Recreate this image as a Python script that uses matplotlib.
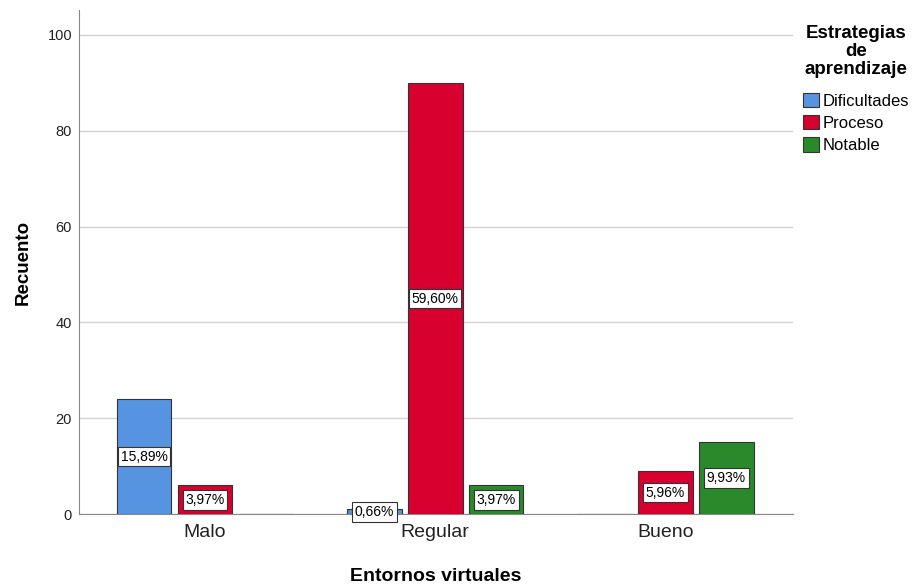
import matplotlib.pyplot as plt
import numpy as np

plt.rcParams['font.family'] = ['Liberation Sans', 'DejaVu Sans']

categories = ['Malo', 'Regular', 'Bueno']
series = ['Dificultades', 'Proceso', 'Notable']
counts = {
    'Dificultades': [24, 1, 0],
    'Proceso': [6, 90, 9],
    'Notable': [0, 6, 15],
}
percent_labels = {
    'Dificultades': ['15,89%', '0,66%', None],
    'Proceso': ['3,97%', '59,60%', '5,96%'],
    'Notable': [None, '3,97%', '9,93%'],
}
colors = {'Dificultades': '#5694E2', 'Proceso': '#D8002F', 'Notable': '#2A892A'}

fig = plt.figure(figsize=(9.18, 5.85), dpi=100)
ax = fig.add_axes([0.086, 0.121, 0.778, 0.862])

x = np.arange(len(categories))
pitch = 0.265
width = 0.238
for i, s in enumerate(series):
    pos = x + (i - 1) * pitch
    vals = counts[s]
    ax.bar(pos, vals, width, color=colors[s], edgecolor='#333333', linewidth=0.8,
           label=s, zorder=3)
    for p, v, lab in zip(pos, vals, percent_labels[s]):
        if lab is None:
            continue
        ax.text(p, v / 2, lab, ha='center', va='center', fontsize=10, zorder=4,
                bbox=dict(boxstyle='square,pad=0.2', fc='white', ec='#333333', lw=0.8))

ax.set_xlim(-0.548, 2.556)
ax.set_ylim(0, 105.2)
ax.set_yticks([0, 20, 40, 60, 80, 100])
ax.set_xticks(x)
ax.set_xticklabels(categories, fontsize=14)
ax.tick_params(axis='y', length=0, labelsize=10.5, pad=5, labelcolor='#222222')
ax.tick_params(axis='x', length=0, pad=7, labelcolor='#222222')
ax.grid(axis='y', color='#d4d4d4', linewidth=1, zorder=0)
ax.set_axisbelow(True)
for sp in ['top', 'right']:
    ax.spines[sp].set_visible(False)
for sp in ['left', 'bottom']:
    ax.spines[sp].set_color('#888888')

ax.set_ylabel('Recuento', fontsize=13.5, fontweight='bold', labelpad=11)
ax.set_xlabel('Entornos virtuales', fontsize=14, fontweight='bold')
ax.xaxis.set_label_coords(0.5, -0.106)

leg = ax.legend(title='Estrategias\nde\naprendizaje', loc='upper left',
                bbox_to_anchor=(1.012, 0.974), frameon=False, fontsize=12,
                handlelength=0.95, handleheight=0.95, handletextpad=0.2,
                labelspacing=0.38, borderaxespad=0, borderpad=0.1)
title = leg.get_title()
title.set_fontweight('bold')
title.set_fontsize(13.5)
title.set_multialignment('center')
title.set_linespacing(1.07)
leg._legend_box.align = 'center'
leg._legend_box.sep = 11

fig.savefig('out.png', dpi=100)
